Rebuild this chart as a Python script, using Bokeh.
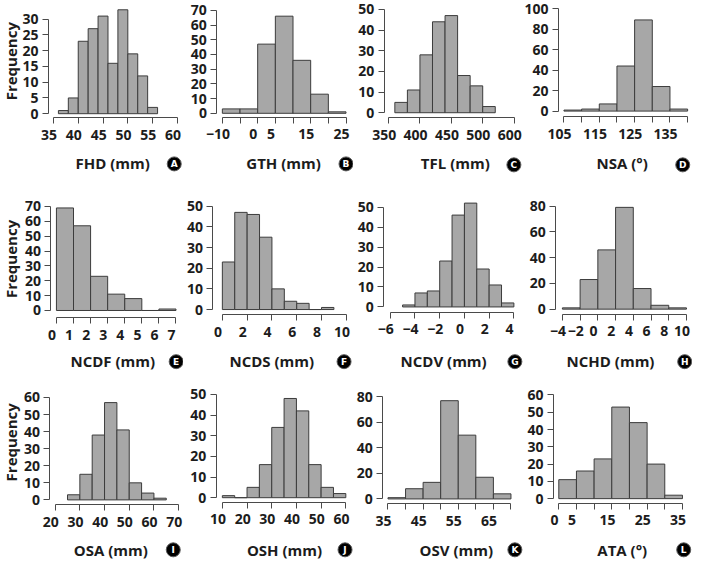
import math
from bokeh.plotting import figure
from bokeh.layouts import gridplot
from bokeh.models import FixedTicker, Label, Range1d, LinearAxis
from bokeh.embed import file_html
from bokeh.resources import INLINE

# ---------------- data ----------------
fhd_edges = [36, 38, 40, 42, 44, 46, 48, 50, 52, 54, 56]
fhd_counts = [1, 5, 23, 27, 31, 16, 33, 19, 12, 2]
gth_edges = [-10, -5, 0, 5, 10, 15, 20, 25]
gth_counts = [3, 3, 47, 66, 36, 13, 1]
tfl_edges = [360, 380, 400, 420, 440, 460, 480, 500, 520]
tfl_counts = [5, 11, 28, 44, 47, 18, 13, 3]
nsa_edges = [105, 110, 115, 120, 125, 130, 135, 140]
nsa_counts = [1, 2, 7, 44, 89, 24, 2]

ncdf_edges = [0, 1, 2, 3, 4, 5, 6, 7]
ncdf_counts = [69, 57, 23, 11, 8, 0, 1]
ncds_edges = [0, 1, 2, 3, 4, 5, 6, 7, 8, 9]
ncds_counts = [23, 47, 46, 35, 10, 4, 3, 0, 1]
ncdv_edges = [-5, -4, -3, -2, -1, 0, 1, 2, 3, 4]
ncdv_counts = [1, 7, 8, 23, 46, 52, 19, 11, 2]
nchd_edges = [-4, -2, 0, 2, 4, 6, 8, 10]
nchd_counts = [1, 23, 46, 79, 16, 3, 1]

osa_edges = [25, 30, 35, 40, 45, 50, 55, 60, 65]
osa_counts = [3, 15, 38, 57, 41, 10, 4, 1]
osh_edges = [10, 15, 20, 25, 30, 35, 40, 45, 50, 55, 60]
osh_counts = [1, 0, 5, 16, 34, 48, 42, 16, 5, 2]
osv_edges = [35, 40, 45, 50, 55, 60, 65, 70]
osv_counts = [1, 8, 13, 77, 50, 17, 4]
ata_edges = [0, 5, 10, 15, 20, 25, 30, 35]
ata_counts = [11, 16, 23, 53, 44, 20, 2]

# x tick values and the labels printed under them
fhd_xticks = [35, 40, 45, 50, 55, 60]
fhd_xlabels = ["35", "40", "45", "50", "55", "60"]
gth_xticks = [-10, -5, 0, 5, 10, 15, 20, 25]
gth_xlabels = ["\u221210", "", "0", "5", "", "15", "", "25"]
tfl_xticks = [350, 400, 450, 500, 550]
tfl_xlabels = ["350", "400", "450", "500", "600"]
nsa_xticks = [105, 110, 115, 120, 125, 130, 135, 140]
nsa_xlabels = ["105", "", "115", "", "125", "", "135", ""]
ncdf_xticks = [0, 1, 2, 3, 4, 5, 6, 7]
ncdf_xlabels = ["0", "1", "2", "3", "4", "5", "6", "7"]
ncds_xticks = [0, 2, 4, 6, 8, 10]
ncds_xlabels = ["0", "2", "4", "6", "8", "10"]
ncdv_xticks = [-6, -4, -2, 0, 2, 4]
ncdv_xlabels = ["\u22126", "\u22124", "\u22122", "0", "2", "4"]
nchd_xticks = [-4, -2, 0, 2, 4, 6, 8, 10]
nchd_xlabels = ["\u22124", "\u22122", "0", "2", "4", "6", "8", "10"]
osa_xticks = [20, 30, 40, 50, 60, 70]
osa_xlabels = ["20", "30", "40", "50", "60", "70"]
osh_xticks = [10, 20, 30, 40, 50, 60]
osh_xlabels = ["10", "20", "30", "40", "50", "60"]
osv_xticks = [35, 40, 45, 50, 55, 60, 65, 70]
osv_xlabels = ["35", "", "45", "", "55", "", "65", ""]
ata_xticks = [0, 5, 10, 15, 20, 25, 30, 35]
ata_xlabels = ["0", "5", "", "15", "", "25", "", "35"]

# y tick values
fhd_yticks = [0, 5, 10, 15, 20, 25, 30]
gth_yticks = [0, 10, 20, 30, 40, 50, 60, 70]
tfl_yticks = [0, 10, 20, 30, 40, 50]
nsa_yticks = [0, 20, 40, 60, 80, 100]
ncdf_yticks = [0, 10, 20, 30, 40, 50, 60, 70]
ncds_yticks = [0, 10, 20, 30, 40, 50]
ncdv_yticks = [0, 10, 20, 30, 40, 50]
nchd_yticks = [0, 20, 40, 60, 80]
osa_yticks = [0, 10, 20, 30, 40, 50, 60]
osh_yticks = [0, 10, 20, 30, 40, 50]
osv_yticks = [0, 20, 40, 60, 80]
ata_yticks = [0, 10, 20, 30, 40, 50, 60]

titles = ["FHD (mm)", "GTH (mm)", "TFL (mm)", "NSA (\u00b0)",
          "NCDF (mm)", "NCDS (mm)", "NCDV (mm)", "NCHD (mm)",
          "OSA (mm)", "OSH (mm)", "OSV (mm)", "ATA (\u00b0)"]
letters = ["A", "B", "C", "D", "E", "F", "G", "H", "I", "J", "K", "L"]
y_title = "Frequency"

panels = [
    (fhd_edges, fhd_counts, fhd_xticks, fhd_xlabels, fhd_yticks),
    (gth_edges, gth_counts, gth_xticks, gth_xlabels, gth_yticks),
    (tfl_edges, tfl_counts, tfl_xticks, tfl_xlabels, tfl_yticks),
    (nsa_edges, nsa_counts, nsa_xticks, nsa_xlabels, nsa_yticks),
    (ncdf_edges, ncdf_counts, ncdf_xticks, ncdf_xlabels, ncdf_yticks),
    (ncds_edges, ncds_counts, ncds_xticks, ncds_xlabels, ncds_yticks),
    (ncdv_edges, ncdv_counts, ncdv_xticks, ncdv_xlabels, ncdv_yticks),
    (nchd_edges, nchd_counts, nchd_xticks, nchd_xlabels, nchd_yticks),
    (osa_edges, osa_counts, osa_xticks, osa_xlabels, osa_yticks),
    (osh_edges, osh_counts, osh_xticks, osh_xlabels, osh_yticks),
    (osv_edges, osv_counts, osv_xticks, osv_xlabels, osv_yticks),
    (ata_edges, ata_counts, ata_xticks, ata_xlabels, ata_yticks),
]

# ---------------- layout (reference pixel geometry) ----------------
# y-axis x, first x-tick px, px per x unit, x-axis y, zero px, px per y unit,
# title x, title y, badge x, badge y
geom = [
    (49.3, 54.25, 5.08, 117.0, 112.7, 3.28, 115, 164, 178, 165),
    (221.7, 227.3, 3.62, 116.6, 112.3, 1.533, 290, 164, 354, 165),
    (393.3, 397.6, 0.643, 116.7, 111.7, 2.153, 466, 164, 526, 166),
    (571.7, 577.3, 3.62, 115.7, 110.0, 1.067, 637, 164, 699, 166),
    (51.7, 57.3, 17.5, 325.0, 317.7, 1.548, 115, 370, 180, 371),
    (217.7, 227.3, 12.7, 322.3, 316.7, 2.153, 278, 370, 352, 371),
    (392.7, 399.3, 12.67, 319.3, 314.0, 2.08, 454, 370, 527, 371),
    (569.0, 575.7, 9.08, 321.7, 316.3, 1.342, 625, 370, 701, 371),
    (50.7, 56.0, 2.53, 520.0, 515.0, 1.778, 113, 566.7, 177, 567),
    (221.0, 227.3, 2.53, 517.7, 512.7, 2.153, 291, 566.7, 353, 567),
    (391.7, 397.0, 3.6, 519.0, 514.0, 1.329, 467, 566.7, 527, 567),
    (566.7, 572.0, 3.62, 518.3, 513.7, 1.8, 637, 566.7, 700, 567),
]
freq_y = [58, 264, 455]
LABEL_SHIFT = 4.4      # x tick labels sit a little left of their ticks

SX = 692 / 709
SY = 0.96
Y_OFF = 5
col_start = [0, 183, 353, 523]
col_w = [183, 170, 170, 169]
row_start = [0, 187, 374]
row_h = [187, 187, 186]

FONT = "Open Sans"
TXT = "#1c1c1c"
AX = "#4a4a4a"

figs = []
for i, (edges, counts, xt, xl, yt) in enumerate(panels):
    r, c = divmod(i, 4)
    W, H = col_w[c], row_h[r]
    fl, x0, kx, axy, y0, ky, tx, ty, bx, by = geom[i]
    kxn = kx * SX
    kyn = ky * SY

    def lx(v):
        return v * SX - col_start[c]

    def ly(v):
        return Y_OFF + v * SY - row_start[r]

    fl_n, x0_n, axis_n, y0_n = lx(fl), lx(x0), ly(axy), ly(y0)

    x_start = xt[0] - x0_n / kxn
    x_end = x_start + W / kxn
    y_end = y0_n / kyn
    y_start = y_end - H / kyn

    def dx(px):
        return x_start + px / kxn

    def dy(py):
        return y_end - py / kyn

    d = LABEL_SHIFT / kxn
    p = figure(width=W, height=H, x_range=Range1d(x_start, x_end),
               y_range=Range1d(y_start, y_end), output_backend="svg",
               toolbar_location=None, min_border=0)
    p.extra_x_ranges = {"lab": Range1d(x_start + d, x_end + d)}
    p.outline_line_color = None
    p.grid.visible = False
    p.background_fill_color = "white"

    p.quad(left=edges[:-1], right=edges[1:], bottom=0, top=counts,
           fill_color="#a7a7a7", line_color="#3c3c3c", line_width=1)

    # x axis: line + ticks
    xa = p.xaxis[0]
    xa.fixed_location = dy(axis_n)
    xa.ticker = FixedTicker(ticks=xt)
    xa.bounds = (xt[0], xt[-1])
    xa.major_label_overrides = {t: "" for t in xt}
    xa.major_label_standoff = 0
    # x tick labels (slightly offset, as in the reference)
    xl_axis = LinearAxis(x_range_name="lab", fixed_location=dy(axis_n),
                         ticker=FixedTicker(ticks=xt),
                         major_label_overrides={t: s for t, s in zip(xt, xl)},
                         axis_line_color=None, major_tick_line_color=None,
                         minor_tick_line_color=None, major_tick_out=0,
                         major_tick_in=0, major_label_standoff=12,
                         major_label_text_font=FONT,
                         major_label_text_font_style="bold",
                         major_label_text_font_size="14px",
                         major_label_text_color=TXT)
    p.add_layout(xl_axis, "below")

    ya = p.yaxis[0]
    ya.fixed_location = dx(fl_n)
    ya.ticker = FixedTicker(ticks=yt)
    ya.bounds = (yt[0], yt[-1])
    ya.major_label_standoff = 4
    for a in (xa, ya):
        a.axis_line_color = AX
        a.major_tick_line_color = AX
        a.minor_tick_line_color = None
        a.major_tick_in = 0
        a.major_tick_out = 6
        a.major_label_text_font = FONT
        a.major_label_text_font_style = "bold"
        a.major_label_text_font_size = "14px"
        a.major_label_text_color = TXT

    # x-axis title and lettered badge
    p.add_layout(Label(x=lx(tx), y=H - ly(ty),
                       x_units="screen", y_units="screen", text=titles[i],
                       text_align="center", text_baseline="middle",
                       text_font=FONT, text_font_style="bold",
                       text_font_size="15px", text_color=TXT))
    bpx, bpy = lx(bx), ly(by)
    p.scatter(x=[dx(bpx)], y=[dy(bpy)], marker="circle", size=14,
              fill_color="black", line_color="#5a5a5a", line_width=1)
    p.add_layout(Label(x=bpx, y=H - bpy, x_units="screen", y_units="screen",
                       text=letters[i], text_align="center",
                       text_baseline="middle", text_font="DejaVu Sans",
                       text_font_style="bold", text_font_size="9px",
                       text_color="white"))
    if c == 0:
        p.add_layout(Label(x=10.5, y=H - ly(freq_y[r]),
                           x_units="screen", y_units="screen", text=y_title,
                           angle=math.pi / 2, text_align="center",
                           text_baseline="middle", text_font=FONT,
                           text_font_style="bold", text_font_size="15px",
                           text_color=TXT))
    figs.append(p)

grid = gridplot([figs[0:4], figs[4:8], figs[8:12]], toolbar_location=None)
open("out.html", "w").write(file_html(grid, INLINE))
